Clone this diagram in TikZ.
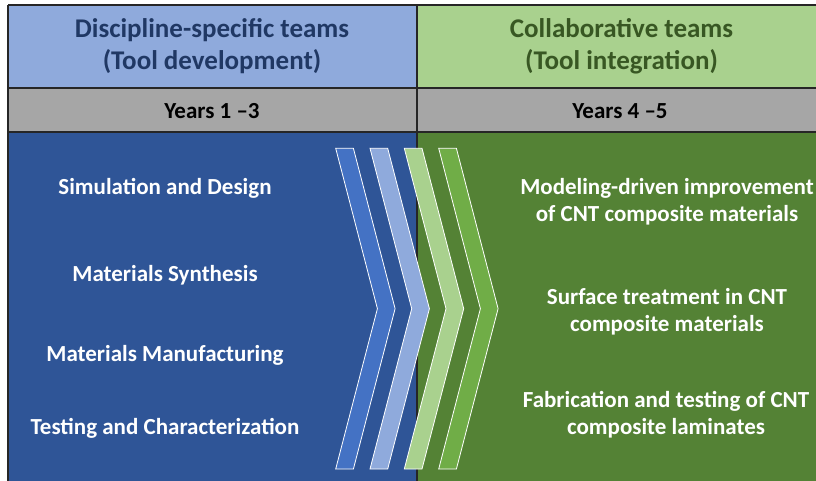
\documentclass[tikz,border=0pt]{standalone}
\usepackage{fontspec}
\setmainfont{Carlito}
\definecolor{headBlue}{HTML}{8FAADC}
\definecolor{headGreen}{HTML}{A9D18E}
\definecolor{headBlueText}{HTML}{203864}
\definecolor{headGreenText}{HTML}{385723}
\definecolor{bandGray}{HTML}{A6A6A6}
\definecolor{bodyBlue}{HTML}{2F5597}
\definecolor{bodyGreen}{HTML}{548235}
\definecolor{chevA}{HTML}{4472C4}
\definecolor{chevB}{HTML}{8FAADC}
\definecolor{chevC}{HTML}{A9D18E}
\definecolor{chevD}{HTML}{70AD47}
\definecolor{rule}{HTML}{262626}
\begin{document}
\begin{tikzpicture}[x=1pt,y=-1pt,
  gridline/.style={draw=rule,line width=1.3pt},
  chevron/.style={draw=white,line width=0.8pt,line join=miter},
  headtext/.style={font=\fontsize{27}{32}\selectfont\bfseries,inner sep=0pt,anchor=base},
  yeartext/.style={font=\fontsize{23}{27}\selectfont\bfseries,text=black,inner sep=0pt,anchor=base},
  bodytext/.style={font=\fontsize{23}{27}\selectfont\bfseries,text=white,inner sep=0pt,anchor=base}]
\useasboundingbox (0,0) rectangle (816,480);
\clip (0,0) rectangle (816,480);

% column backgrounds
\fill[headBlue]  (8,5)   rectangle (417,88);
\fill[headGreen] (417,5) rectangle (830,88);
\fill[bandGray]  (8,88)  rectangle (830,132);
\fill[bodyBlue]  (8,132) rectangle (417,490);
\fill[bodyGreen] (417,132) rectangle (830,490);

% table rules
\draw[gridline] (8,5) -- (830,5);
\draw[gridline] (8,88) -- (830,88);
\draw[gridline] (8,132) -- (830,132);
\draw[gridline] (8,5) -- (8,490);
\draw[gridline] (417,5) -- (417,490);

% chevrons
\foreach \cx/\cc in {335.7/chevA, 370/chevB, 404.3/chevC, 438.7/chevD}{
  \filldraw[chevron,fill=\cc] (\cx,148.3) -- ++(17.7,0) -- ++(41.7,160.35)
    -- ++(-41.7,160.35) -- ++(-17.7,0) -- ++(41.7,-160.35) -- cycle;
}

% headers
\node[headtext,text=headBlueText] (hleft) at (212,37.5)
  {\begin{tabular}[t]{@{}c@{}}Discipline-specific teams\\(Tool development)\end{tabular}};
\node[headtext,text=headGreenText] (hright) at (621.5,37.5)
  {\begin{tabular}[t]{@{}c@{}}Collaborative teams\\(Tool integration)\end{tabular}};
\node[yeartext] (yleft) at (212,118) {Years 1 –3};
\node[yeartext] (yright) at (620,118) {Years 4 –5};

% discipline-specific topics
\node[bodytext] (sim) at (165,194.5) {Simulation and Design};
\node[bodytext] (syn) at (165,281.5) {Materials Synthesis};
\node[bodytext] (man) at (165,361) {Materials Manufacturing};
\node[bodytext] (tst) at (165,434) {Testing and Characterization};

% collaborative topics
\node[bodytext] (mod) at (667,194)
  {\begin{tabular}[t]{@{}c@{}}Modeling-driven improvement\\of CNT composite materials\end{tabular}};
\node[bodytext] (srf) at (667,304)
  {\begin{tabular}[t]{@{}c@{}}Surface treatment in CNT\\composite materials\end{tabular}};
\node[bodytext] (fab) at (666,407)
  {\begin{tabular}[t]{@{}c@{}}Fabrication and testing of CNT\\composite laminates\end{tabular}};
\end{tikzpicture}
\end{document}
